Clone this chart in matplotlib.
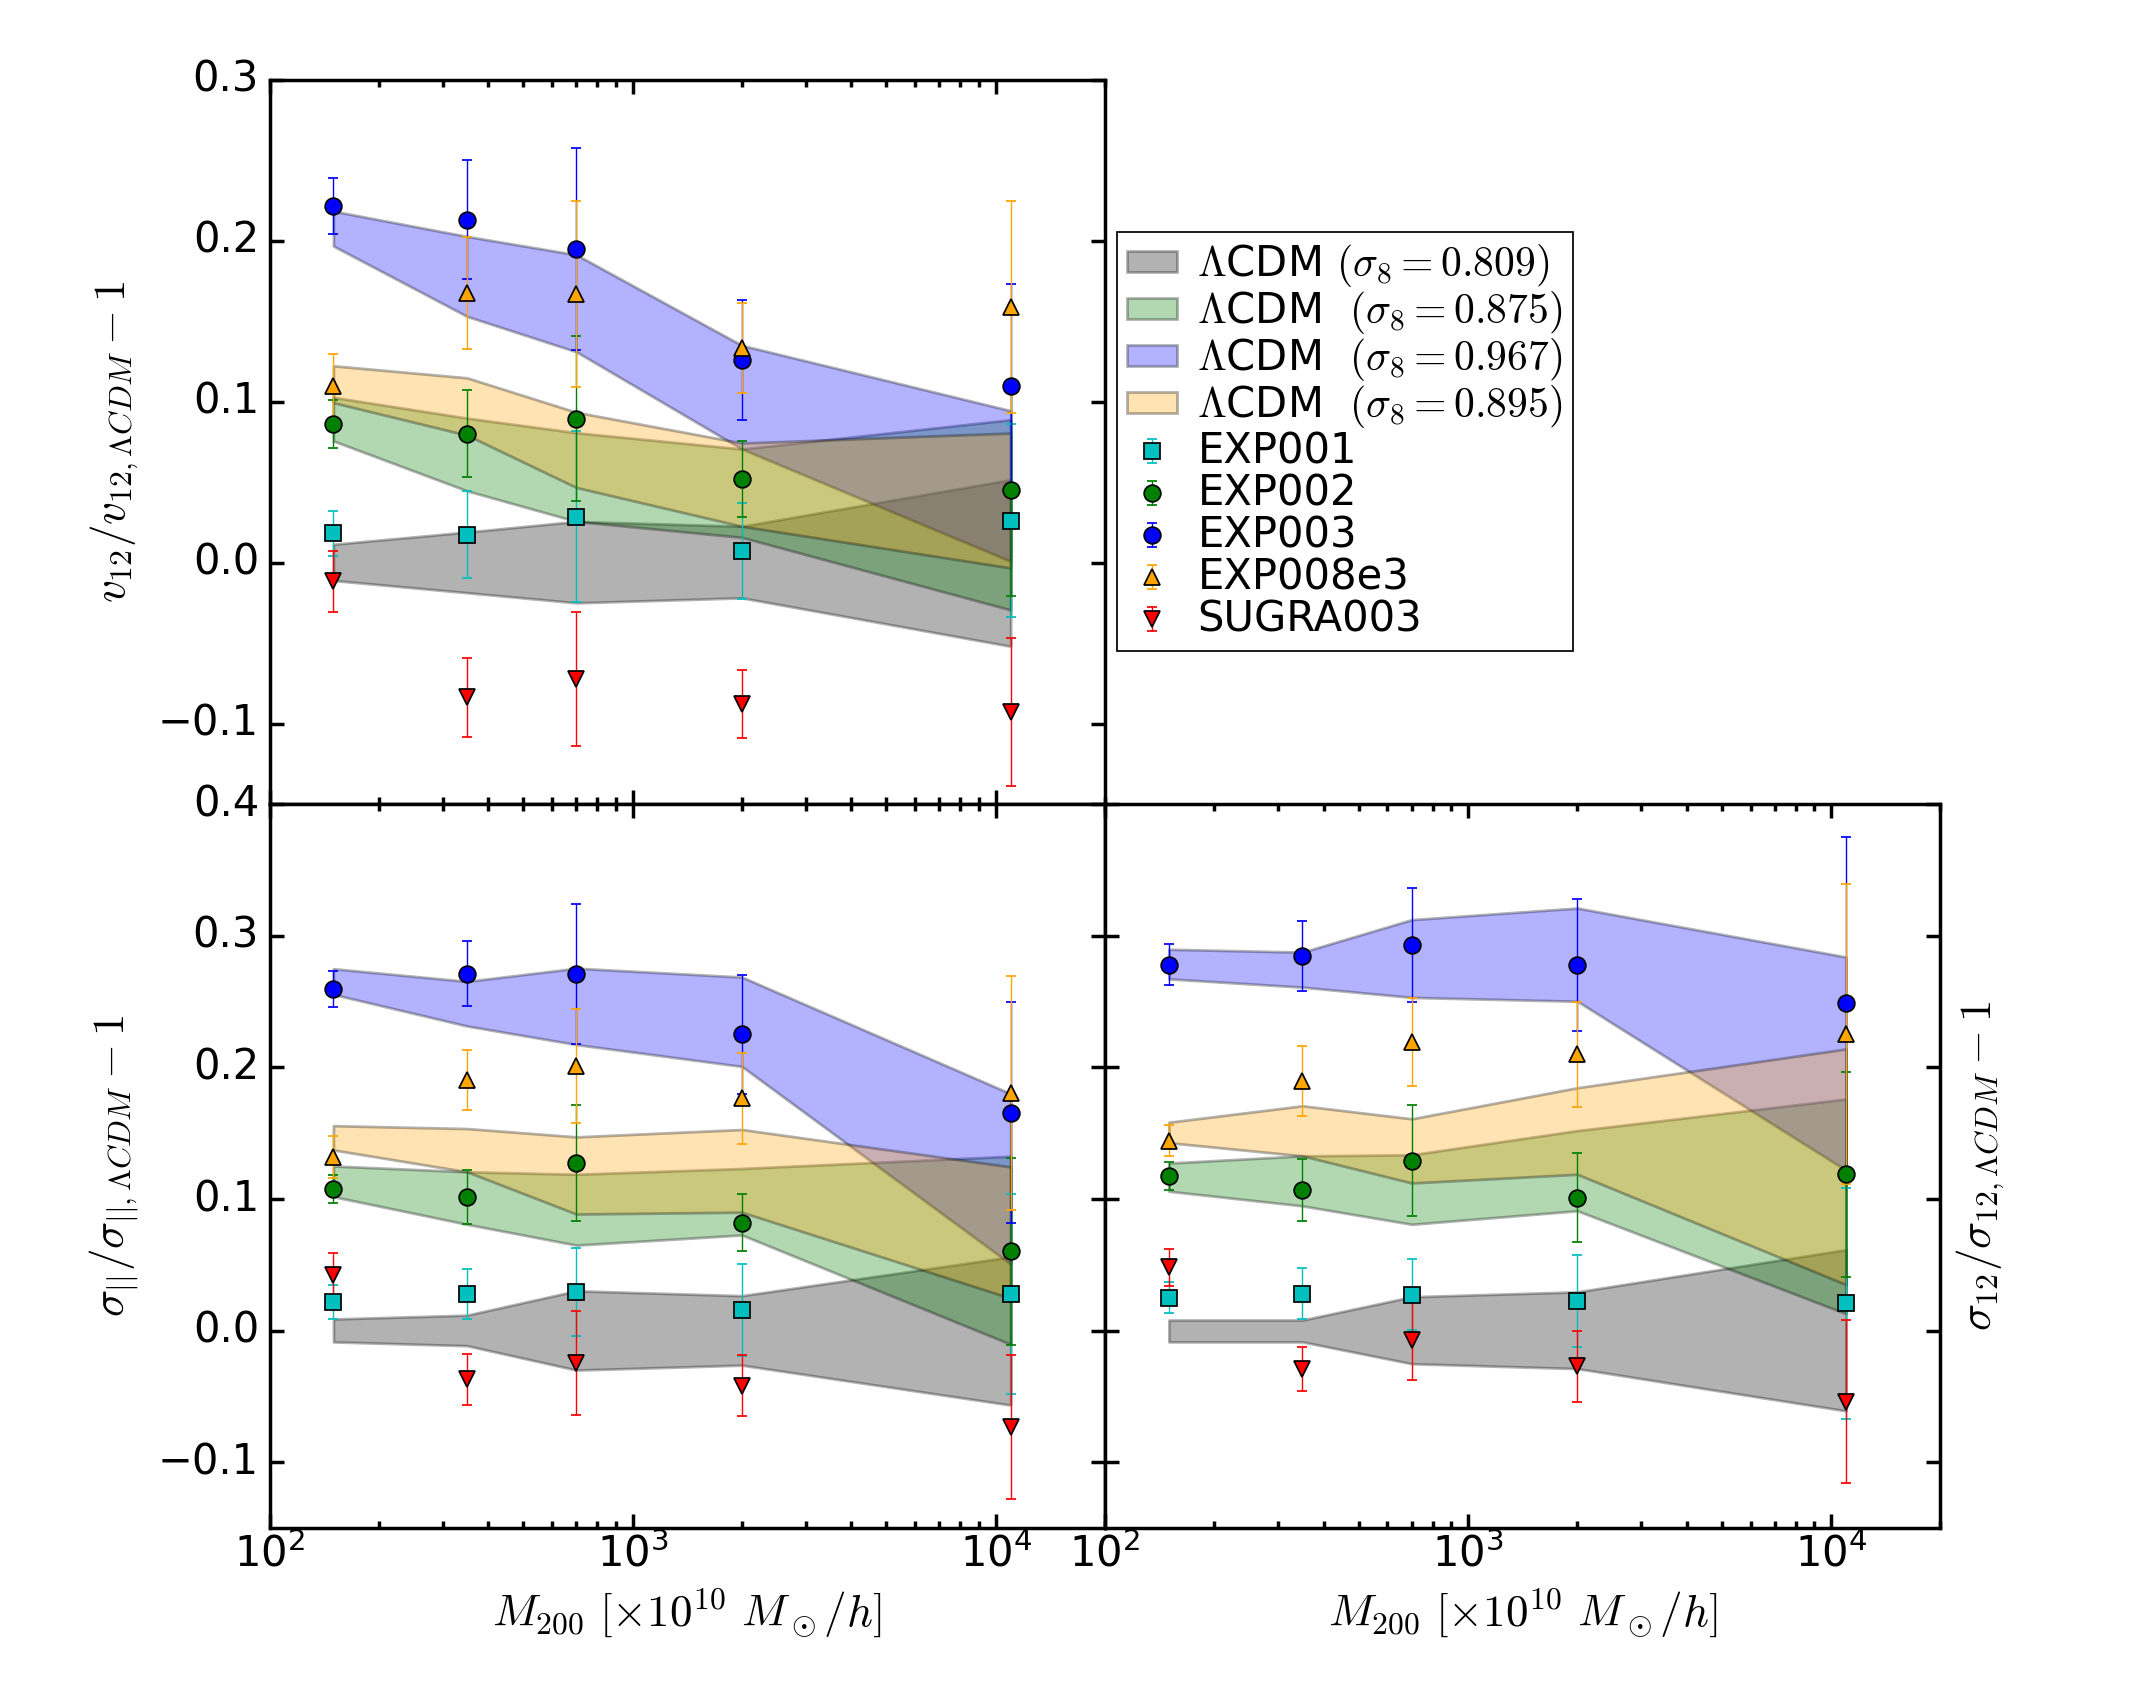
import numpy as np
import matplotlib
matplotlib.use('Agg')
import matplotlib.pyplot as plt
from matplotlib.ticker import MultipleLocator
from matplotlib.legend_handler import HandlerErrorbar
from matplotlib.container import ErrorbarContainer

plt.style.use('classic')
plt.rcParams['mathtext.fontset'] = 'cm'
plt.rcParams['font.family'] = ['DejaVu Sans']
plt.rcParams['font.size'] = 12

# ---------------- data ----------------
mass = [150, 350, 700, 2000, 11000]

series_names = ['EXP001', 'EXP002', 'EXP003', 'EXP008e3', 'SUGRA003']
band_labels = [r'$\Lambda$CDM $(\sigma_8=0.809)$',
               r'$\Lambda$CDM  $(\sigma_8=0.875)$',
               r'$\Lambda$CDM  $(\sigma_8=0.967)$',
               r'$\Lambda$CDM  $(\sigma_8=0.895)$']

# panel 1: v12 / v12,LCDM - 1
v12_EXP001 = [0.0181, 0.0172, 0.0286, 0.0072, 0.0259]
v12_EXP001_err = [0.014, 0.027, 0.053, 0.030, 0.060]
v12_EXP002 = [0.0861, 0.0801, 0.0895, 0.0521, 0.0452]
v12_EXP002_err = [0.015, 0.027, 0.051, 0.0235, 0.066]
v12_EXP003 = [0.2217, 0.213, 0.1949, 0.1259, 0.110]
v12_EXP003_err = [0.0175, 0.037, 0.063, 0.037, 0.063]
v12_EXP008e3 = [0.1096, 0.1675, 0.1669, 0.1331, 0.1587]
v12_EXP008e3_err = [0.020, 0.035, 0.058, 0.028, 0.066]
v12_SUGRA003 = [-0.0117, -0.0837, -0.0726, -0.0877, -0.093]
v12_SUGRA003_err = [0.019, 0.0245, 0.0416, 0.021, 0.046]

v12_s809_lo = [-0.0111, -0.0187, -0.025, -0.0219, -0.052]
v12_s809_hi = [0.0114, 0.019, 0.0256, 0.0226, 0.0516]
v12_s875_lo = [0.0756, 0.0446, 0.0256, 0.0157, -0.0294]
v12_s875_hi = [0.1027, 0.0898, 0.0807, 0.0706, 0.0888]
v12_s967_lo = [0.1967, 0.153, 0.131, 0.0706, 0.0008]
v12_s967_hi = [0.2184, 0.2027, 0.1913, 0.135, 0.0944]
v12_s895_lo = [0.0994, 0.0792, 0.0467, 0.0226, -0.0033]
v12_s895_hi = [0.1223, 0.1148, 0.0934, 0.0743, 0.0805]

# panel 2: sigma_par / sigma_par,LCDM - 1
spar_EXP001 = [0.0218, 0.0277, 0.0295, 0.0155, 0.0277]
spar_EXP001_err = [0.0128, 0.0188, 0.0332, 0.035, 0.076]
spar_EXP002 = [0.1077, 0.1018, 0.1273, 0.0819, 0.0605]
spar_EXP002_err = [0.0105, 0.0205, 0.0443, 0.0216, 0.071]
spar_EXP003 = [0.2594, 0.2712, 0.2708, 0.2251, 0.1657]
spar_EXP003_err = [0.0137, 0.0245, 0.053, 0.045, 0.0837]
spar_EXP008e3 = [0.1317, 0.1904, 0.2011, 0.1764, 0.1804]
spar_EXP008e3_err = [0.016, 0.0225, 0.0435, 0.0345, 0.089]
spar_SUGRA003 = [0.0424, -0.0369, -0.0244, -0.0417, -0.0731]
spar_SUGRA003_err = [0.0166, 0.0194, 0.0393, 0.023, 0.055]

spar_s809_lo = [-0.0085, -0.0114, -0.0299, -0.0262, -0.0565]
spar_s809_hi = [0.0089, 0.0118, 0.0303, 0.0266, 0.0561]
spar_s875_lo = [0.1018, 0.0808, 0.065, 0.0727, -0.0103]
spar_s875_hi = [0.1251, 0.1207, 0.1188, 0.1232, 0.1325]
spar_s967_lo = [0.2554, 0.2314, 0.2173, 0.2007, 0.0506]
spar_s967_hi = [0.2749, 0.2653, 0.2753, 0.2686, 0.180]
spar_s895_lo = [0.1373, 0.1207, 0.0886, 0.090, 0.0247]
spar_s895_hi = [0.1557, 0.1535, 0.1472, 0.1528, 0.1244]

# panel 3: sigma_12 / sigma_12,LCDM - 1
s12_EXP001 = [0.0251, 0.028, 0.0273, 0.0225, 0.021]
s12_EXP001_err = [0.012, 0.0194, 0.027, 0.035, 0.0877]
s12_EXP002 = [0.1177, 0.107, 0.1292, 0.1011, 0.1188]
s12_EXP002_err = [0.0105, 0.0236, 0.042, 0.0337, 0.078]
s12_EXP003 = [0.2779, 0.2845, 0.293, 0.2779, 0.2487]
s12_EXP003_err = [0.0157, 0.0264, 0.043, 0.050, 0.126]
s12_EXP008e3 = [0.1443, 0.1897, 0.2192, 0.21, 0.2255]
s12_EXP008e3_err = [0.012, 0.0264, 0.0337, 0.040, 0.114]
s12_SUGRA003 = [0.048, -0.0292, -0.0074, -0.0269, -0.0539]
s12_SUGRA003_err = [0.0142, 0.0166, 0.030, 0.027, 0.062]

s12_s809_lo = [-0.0085, -0.0085, -0.0251, -0.0288, -0.0609]
s12_s809_hi = [0.0081, 0.0081, 0.0258, 0.0295, 0.0616]
s12_s875_lo = [0.1059, 0.0948, 0.0808, 0.0911, 0.0129]
s12_s875_hi = [0.1273, 0.1328, 0.1336, 0.152, 0.176]
s12_s967_lo = [0.2672, 0.2609, 0.2531, 0.2502, 0.1218]
s12_s967_hi = [0.2897, 0.2875, 0.3122, 0.321, 0.2838]
s12_s895_lo = [0.1428, 0.1328, 0.1122, 0.1188, 0.035]
s12_s895_hi = [0.1583, 0.1708, 0.1609, 0.1845, 0.214]

# ---------------- styling ----------------
band_colors = ['k', 'g', 'b', 'orange']
series_colors = ['c', 'g', 'b', 'orange', 'r']
series_markers = ['s', 'o', 'o', '^', 'v']

DPI = 250
fig = plt.figure(figsize=(2156 / DPI, 1698 / DPI), facecolor='white')
L, R, B, T = 0.125, 0.9, 0.1, 0.953
W = (R - L) / 2
H = (T - B) / 2
ax1 = fig.add_axes([L, B + H, W, H])
ax2 = fig.add_axes([L, B, W, H], sharex=ax1)
ax3 = fig.add_axes([L + W, B, W, H], sharex=ax1, sharey=ax2)


def draw(ax, bands, points):
    for (lo, hi), col, lab in zip(bands, band_colors, band_labels):
        ax.fill_between(mass, lo, hi, facecolor=col, edgecolor='k',
                        alpha=0.3, linewidth=0.8, label=lab)
    for (y, e), col, mk, name in zip(points, series_colors, series_markers, series_names):
        ax.errorbar(mass, y, yerr=e, fmt=mk, color=col, ecolor=col,
                    markerfacecolor=col, markeredgecolor='k',
                    markeredgewidth=0.5, markersize=4.8,
                    elinewidth=0.4, capsize=1.3, capthick=0.4, label=name)
    ax.set_xscale('log')
    ax.set_xlim(100, 2e4)
    ax.yaxis.set_major_locator(MultipleLocator(0.1))
    ax.tick_params(which='both', direction='in', top=True, right=True)
    ax.tick_params(which='major', length=4, width=1)
    ax.tick_params(which='minor', length=2, width=1)
    ax.tick_params(axis='x', which='both', pad=1.5, labelsize=12)
    ax.tick_params(axis='y', which='both', pad=3, labelsize=12)


draw(ax1,
     [(v12_s809_lo, v12_s809_hi), (v12_s875_lo, v12_s875_hi),
      (v12_s967_lo, v12_s967_hi), (v12_s895_lo, v12_s895_hi)],
     [(v12_EXP001, v12_EXP001_err), (v12_EXP002, v12_EXP002_err),
      (v12_EXP003, v12_EXP003_err), (v12_EXP008e3, v12_EXP008e3_err),
      (v12_SUGRA003, v12_SUGRA003_err)])
draw(ax2,
     [(spar_s809_lo, spar_s809_hi), (spar_s875_lo, spar_s875_hi),
      (spar_s967_lo, spar_s967_hi), (spar_s895_lo, spar_s895_hi)],
     [(spar_EXP001, spar_EXP001_err), (spar_EXP002, spar_EXP002_err),
      (spar_EXP003, spar_EXP003_err), (spar_EXP008e3, spar_EXP008e3_err),
      (spar_SUGRA003, spar_SUGRA003_err)])
draw(ax3,
     [(s12_s809_lo, s12_s809_hi), (s12_s875_lo, s12_s875_hi),
      (s12_s967_lo, s12_s967_hi), (s12_s895_lo, s12_s895_hi)],
     [(s12_EXP001, s12_EXP001_err), (s12_EXP002, s12_EXP002_err),
      (s12_EXP003, s12_EXP003_err), (s12_EXP008e3, s12_EXP008e3_err),
      (s12_SUGRA003, s12_SUGRA003_err)])

ax1.set_ylim(-0.15, 0.3)
ax2.set_ylim(-0.15, 0.4)
ax1.tick_params(axis='x', which='both', labelbottom=False)
ax3.tick_params(axis='y', which='both', labelleft=False)

lab_fs = 13
ax1.set_ylabel(r'$v_{12}/v_{12,\Lambda CDM}-1$', fontsize=lab_fs, labelpad=5)
ax2.set_ylabel(r'$\sigma_{||}/\sigma_{||,\Lambda CDM}-1$', fontsize=lab_fs, labelpad=5)
ax3.yaxis.set_label_position('right')
ax3.set_ylabel(r'$\sigma_{12}/\sigma_{12,\Lambda CDM}-1$', fontsize=lab_fs, labelpad=4)
xl = r'$M_{200}\ [\times 10^{10}\ M_\odot/h]$'
ax2.set_xlabel(xl, fontsize=lab_fs, labelpad=3)
ax3.set_xlabel(xl, fontsize=lab_fs, labelpad=3)

handles, labels = ax1.get_legend_handles_labels()
leg = ax1.legend(handles, labels, loc='upper left',
                 bbox_to_anchor=(1117 / 2156, 1 - 232 / 1698),
                 bbox_transform=fig.transFigure, borderaxespad=0,
                 numpoints=1, fontsize=12, handlelength=1.18, handleheight=0.41,
                 handletextpad=0.5, borderpad=0.25, labelspacing=0.0,
                 fancybox=False, frameon=True,
                 handler_map={ErrorbarContainer: HandlerErrorbar(yerr_size=0.29, numpoints=1)})
leg.get_frame().set_linewidth(0.5)
leg.get_frame().set_edgecolor('k')

fig.savefig('out.png', dpi=DPI, facecolor='white')
